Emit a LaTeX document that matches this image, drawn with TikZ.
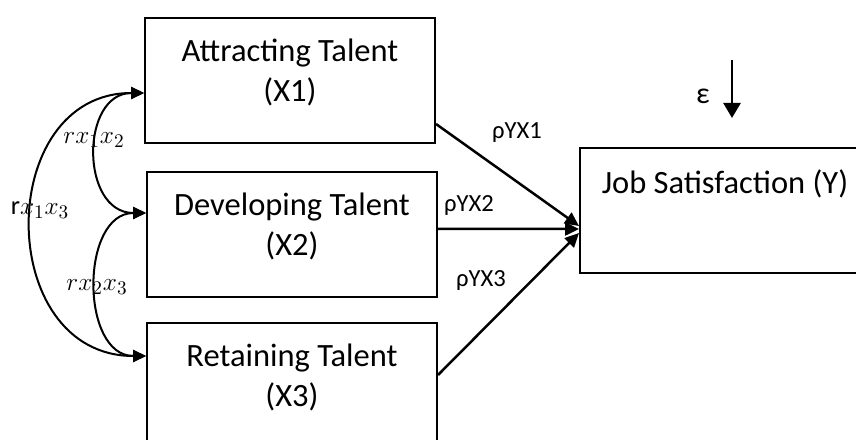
\documentclass[tikz,border=0pt]{standalone}
\usepackage{fontspec}
\setmainfont{Carlito}
\usetikzlibrary{positioning,arrows.meta}

\begin{document}
\begin{tikzpicture}[x=0.2mm, y=-0.2mm,
    box/.style={draw=black, line width=0.4mm, minimum width=58mm, minimum height=25mm, inner sep=0pt, anchor=north west},
    boxtext/.style={inner sep=0pt, align=center, font=\fontsize{18.5}{22.7}\selectfont},
    coef/.style={inner sep=0pt, font=\fontsize{14}{16}\selectfont},
    corr/.style={inner sep=0pt, font=\fontsize{15}{18}\selectfont},
    pathline/.style={line width=0.5mm, -{Triangle[length=2.8mm,width=2.6mm]}},
    link/.style={line width=0.4mm, {Triangle[length=2.6mm,width=2.4mm]}-{Triangle[length=2.6mm,width=2.4mm]}}]
    \clip (0,0) rectangle (856,440);
    % boxes
    \node[box] (x1) at (144,17) {};
    \node[box] (x2) at (146,171) {};
    \node[box] (x3) at (146,322) {};
    \node[box] (y) at (579,147) {};
    \node[boxtext, below=4.4mm of x1.north] (x1txt) {Attracting Talent\\(X1)};
    \node[boxtext, below=4.4mm of x2.north] (x2txt) {Developing Talent\\(X2)};
    \node[boxtext, below=4.4mm of x3.north] (x3txt) {Retaining Talent\\(X3)};
    \node[boxtext, below=4.4mm of y.north] (ytxt) {Job Satisfaction (Y)};
    % error term
    \node[coef, font=\fontsize{17}{19}\selectfont] (eps) at (703,96) {ε};
    \coordinate (etop) at (732,60);
    \coordinate (ebot) at (732,118);
    \draw[line width=0.5mm, -{Triangle[length=3mm,width=3.4mm]}] (etop) -- (ebot);
    % paths to Y
    \draw[pathline] ([yshift=4mm]x1.south east) -- ([yshift=-3.1mm]y.west);
    \draw[pathline] ([yshift=1.1mm]x2.east) -- ([yshift=-3.7mm]y.west);
    \draw[pathline] ([yshift=-10.6mm]x3.north east) -- ([yshift=-4.5mm]y.west);
    \node[coef] (p1) at (517,133) {ρYX1};
    \node[coef] (p2) at (469,206) {ρYX2};
    \node[coef] (p3) at (481,281) {ρYX3};
    % correlations
    \draw[link] ([yshift=-2.5mm]x1.west) .. controls +(-64,0) and +(-66,0) .. ([yshift=4.3mm]x2.west);
    \draw[link] ([yshift=4.3mm]x2.west) .. controls +(-66,0) and +(-66,0) .. ([yshift=-6.8mm]x3.north west);
    \draw[link] ([yshift=-2.5mm]x1.west) .. controls +(-150,0) and +(-152,0) .. ([yshift=-6.8mm]x3.north west);
    \node[corr] (r12) at (94,140) {$rx_1x_2$};
    \node[corr] (r13) at (40,210) {r$x_1x_3$};
    \node[corr] (r23) at (97,287) {$rx_2x_3$};
\end{tikzpicture}
\end{document}
